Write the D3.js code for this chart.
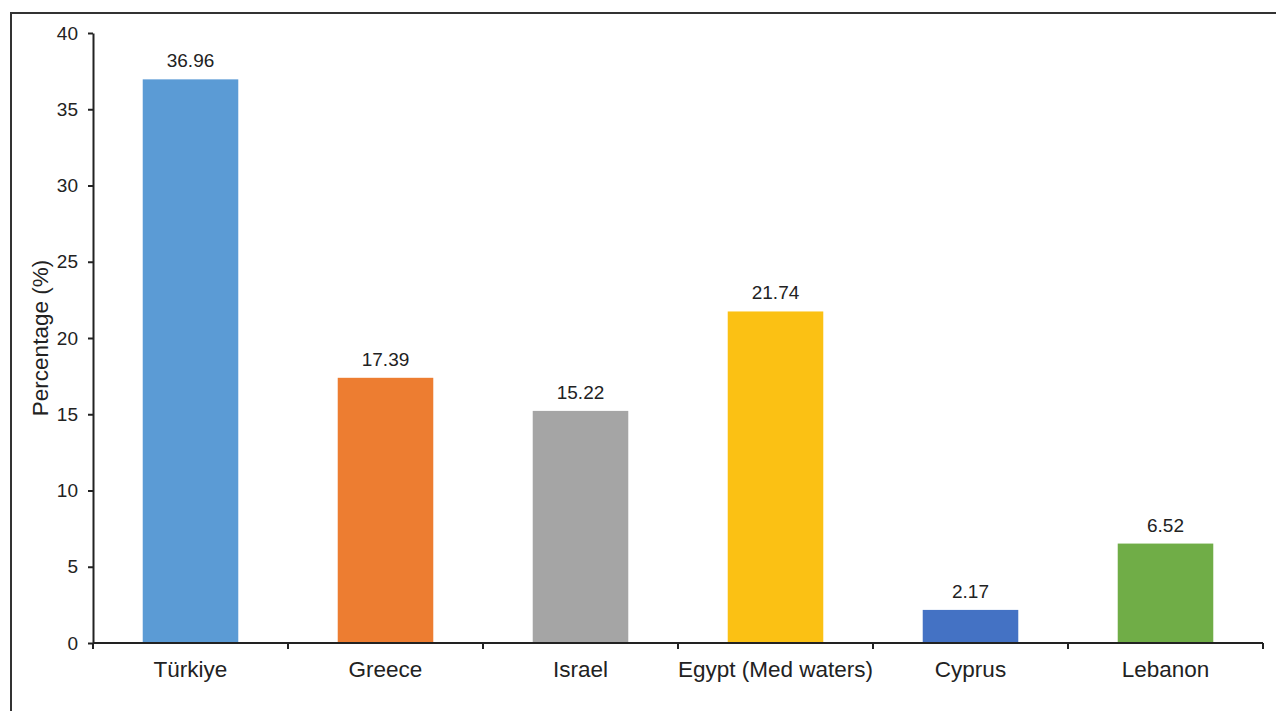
<!DOCTYPE html>
<html>
<head>
<meta charset="utf-8">
<script src="https://cdn.jsdelivr.net/npm/d3@7"></script>
<style>
  html, body { margin: 0; padding: 0; background: #fff; }
  svg { display: block; font-family: "Liberation Sans", Arial, sans-serif; }
</style>
</head>
<body>
<svg id="chart" width="1276" height="711"></svg>
<script>
// Share of records by country (%)
const categories = ["Türkiye", "Greece", "Israel", "Egypt (Med waters)", "Cyprus", "Lebanon"];
const values = [36.96, 17.39, 15.22, 21.74, 2.17, 6.52];
const barColors = ["#5B9BD5", "#ED7D31", "#A5A5A5", "#FBC114", "#4472C4", "#70AD47"];
const yTicks = [0, 5, 10, 15, 20, 25, 30, 35, 40];
const yTitle = "Percentage (%)";

const svg = d3.select("#chart");
const plotLeft = 93, plotRight = 1263, plotTop = 33, plotBottom = 643;

// outer frame (runs past the right and bottom edges)
svg.append("rect")
  .attr("x", 11).attr("y", 13)
  .attr("width", 1300).attr("height", 740)
  .attr("fill", "none").attr("stroke", "#333").attr("stroke-width", 2);

const x = d3.scaleBand()
  .domain(categories)
  .range([plotLeft, plotRight])
  .paddingInner(0.51)
  .paddingOuter(0.255);

const y = d3.scaleLinear().domain([0, 40]).range([plotBottom, plotTop]);

// bars
svg.append("g").selectAll("rect")
  .data(categories)
  .join("rect")
  .attr("x", d => x(d))
  .attr("width", x.bandwidth())
  .attr("y", (d, i) => y(values[i]))
  .attr("height", (d, i) => y(0) - y(values[i]))
  .attr("fill", (d, i) => barColors[i]);

// value labels
svg.append("g").selectAll("text")
  .data(categories)
  .join("text")
  .attr("x", d => x(d) + x.bandwidth() / 2)
  .attr("y", (d, i) => y(values[i]) - 12)
  .attr("text-anchor", "middle")
  .attr("font-size", 19)
  .attr("fill", "#222")
  .text((d, i) => values[i].toFixed(2));

// y axis
const yAxis = svg.append("g")
  .attr("transform", `translate(${plotLeft},0)`)
  .call(d3.axisLeft(y).tickValues(yTicks).tickSize(5).tickPadding(10).tickSizeOuter(0));
yAxis.select(".domain").attr("stroke", "#222").attr("stroke-width", 2);
yAxis.selectAll(".tick line").attr("stroke", "#222").attr("stroke-width", 2);
yAxis.selectAll(".tick text")
  .attr("font-size", 19).attr("font-family", "Liberation Sans, Arial, sans-serif")
  .attr("fill", "#222");

// x axis: ticks at band boundaries
const bounds = d3.range(categories.length + 1).map(i => plotLeft + i * x.step());
const xg = svg.append("g");
xg.append("line")
  .attr("x1", plotLeft).attr("x2", plotRight)
  .attr("y1", y(0)).attr("y2", y(0))
  .attr("stroke", "#222").attr("stroke-width", 2);
xg.selectAll("line.tk")
  .data(bounds)
  .join("line")
  .attr("class", "tk")
  .attr("x1", d => d).attr("x2", d => d)
  .attr("y1", y(0)).attr("y2", y(0) + 6)
  .attr("stroke", "#222").attr("stroke-width", 2);
xg.selectAll("text")
  .data(categories)
  .join("text")
  .attr("x", d => x(d) + x.bandwidth() / 2)
  .attr("y", 677)
  .attr("text-anchor", "middle")
  .attr("font-size", 22.5)
  .attr("fill", "#222")
  .text(d => d);

// y axis title
svg.append("text")
  .attr("transform", `translate(48,${(plotTop + plotBottom) / 2}) rotate(-90)`)
  .attr("text-anchor", "middle")
  .attr("font-size", 22.5)
  .attr("fill", "#222")
  .text(yTitle);
</script>
</body>
</html>
